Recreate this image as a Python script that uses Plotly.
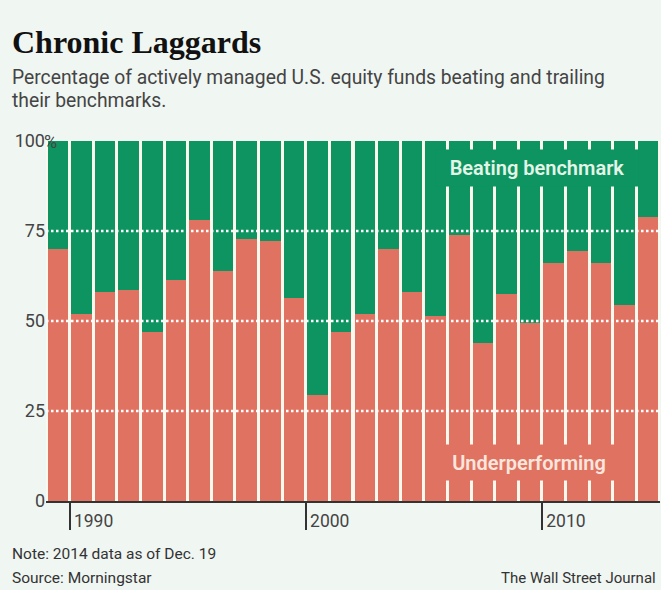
import plotly.graph_objects as go

# fund performance vs benchmark, share of funds in %
years = [1989, 1990, 1991, 1992, 1993, 1994, 1995, 1996, 1997, 1998, 1999, 2000, 2001,
         2002, 2003, 2004, 2005, 2006, 2007, 2008, 2009, 2010, 2011, 2012, 2013, 2014]
underperforming = [70, 52, 58, 58.5, 47, 61.5, 78, 64, 72.7, 72.3, 56.5, 29.5, 47,
                   52, 70, 58, 51.5, 74, 44, 57.5, 49.5, 66, 69.5, 66, 54.5, 79]
beating = [30, 48, 42, 41.5, 53, 38.5, 22, 36, 27.3, 27.7, 43.5, 70.5, 53,
           48, 30, 42, 48.5, 26, 56, 42.5, 50.5, 34, 30.5, 34, 45.5, 21]

y_ticks = [0, 25, 50, 75, 100]
y_tick_labels = ["0", "25", "50", "75", "100"]
grid_levels = [25, 50, 75]
x_tick_labels = ["1990", "2000", "2010"]

red = "#e07262"
green = "#0d9460"
bg = "#f0f6f2"
sans = "Roboto, sans-serif"

fig = go.Figure()
fig.add_trace(go.Bar(x=years, y=underperforming, marker_color=red, marker_line_width=0,
                     name="Underperforming"))
fig.add_trace(go.Bar(x=years, y=beating, marker_color=green, marker_line_width=0,
                     name="Beating benchmark"))

fig.update_layout(
    width=661, height=590,
    margin=dict(l=46, r=1, t=141, b=89),
    paper_bgcolor=bg,
    plot_bgcolor="#fbf8ee",
    barmode="stack",
    bargap=0.13,
    showlegend=False,
    font=dict(family=sans, color="#444"),
)

fig.update_xaxes(
    range=[years[0] - 0.5, years[-1] + 0.5],
    tickvals=[int(t) - 0.5 for t in x_tick_labels],
    ticktext=x_tick_labels,
    ticks="outside", ticklen=27, tickwidth=2, tickcolor="#333",
    ticklabelshift=24, ticklabelstandoff=-24,
    tickfont=dict(size=17.5, color="#444"),
    showgrid=False, zeroline=False,
    showline=True, linecolor="#333", linewidth=2,
)
fig.update_yaxes(
    range=[0, 100],
    tickvals=y_ticks, ticktext=y_tick_labels,
    ticks="", tickfont=dict(size=18, color="#444"),
    showgrid=False, zeroline=False,
)

# dotted white gridlines over the bars
for g in grid_levels:
    fig.add_shape(type="line", xref="paper", x0=0, x1=1, yref="y", y0=g, y1=g,
                  line=dict(color="white", width=2.5, dash="2.5px,2.5px"), layer="above")

fig.add_annotation(text="%", xref="paper", x=0, xshift=-4, xanchor="left",
                   yref="y", y=100, showarrow=False,
                   font=dict(size=18, color="#444", family=sans))

# in-chart labels, boxed in the bar colour so the gaps break around them
fig.add_annotation(text="Beating benchmark", xref="paper", x=(537 - 46) / 614, xanchor="center",
                   yref="y", y=92.5, yanchor="middle",
                   showarrow=False, bgcolor=green, width=200, height=34,
                   font=dict(size=20, color="#e4f4e8", family=sans, weight=600))
fig.add_annotation(text="Underperforming", xref="paper", x=(529 - 46) / 614, xanchor="center",
                   yref="y", y=10.8, yanchor="middle",
                   showarrow=False, bgcolor=red, width=186, height=33,
                   font=dict(size=20, color="#fbe6dd", family=sans, weight=600))

left = -36 / 614
fig.add_annotation(text="<b>Chronic Laggards</b>", xref="paper", x=left, xanchor="left",
                   yref="paper", y=(501 - 42) / 360, yanchor="middle", showarrow=False,
                   font=dict(size=32, color="#111", family="Liberation Serif, DejaVu Serif, serif"))
fig.add_annotation(text="Percentage of actively managed U.S. equity funds beating and trailing",
                   xref="paper", x=left, xanchor="left",
                   yref="paper", y=(501 - 78) / 360, yanchor="middle", showarrow=False,
                   font=dict(size=19.3, color="#444", family=sans))
fig.add_annotation(text="their benchmarks.",
                   xref="paper", x=left, xanchor="left",
                   yref="paper", y=(501 - 101) / 360, yanchor="middle", showarrow=False,
                   font=dict(size=19.3, color="#444", family=sans))

fig.add_annotation(text="Note: 2014 data as of Dec. 19", xref="paper", x=left, xanchor="left",
                   yref="paper", y=-(554 - 501) / 360, yanchor="middle", showarrow=False,
                   font=dict(size=15.5, color="#333", family=sans))
fig.add_annotation(text="Source: Morningstar", xref="paper", x=left, xanchor="left",
                   yref="paper", y=-(578 - 501) / 360, yanchor="middle", showarrow=False,
                   font=dict(size=15.5, color="#333", family=sans))
fig.add_annotation(text="The Wall Street Journal", xref="paper", x=1, xanchor="right", xshift=-2,
                   yref="paper", y=-(578 - 501) / 360, yanchor="middle", showarrow=False,
                   font=dict(size=15, color="#333", family=sans))

fig.write_html("out.html", config={"displayModeBar": False},
               post_script="document.body.style.margin='0';")
